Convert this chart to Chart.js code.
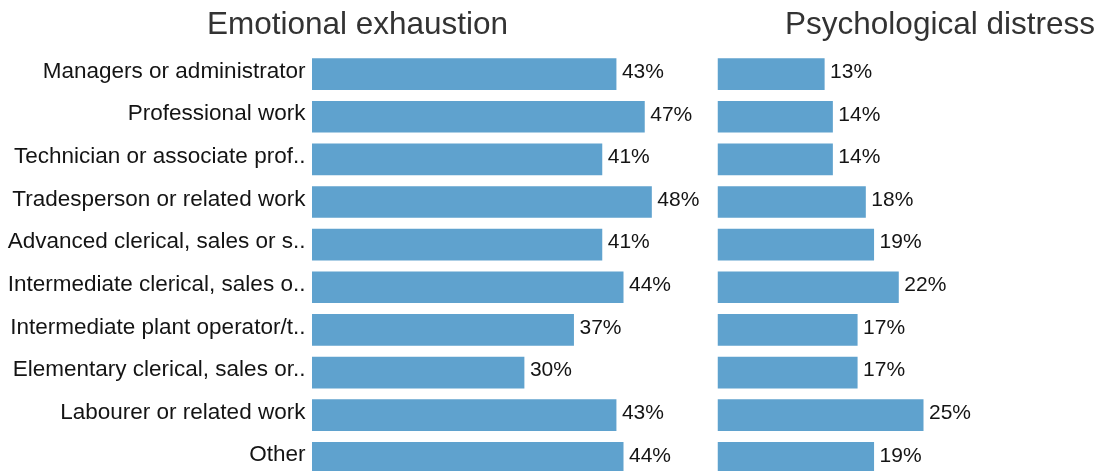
<!DOCTYPE html>
<html>
<head>
<meta charset="utf-8">
<script src="https://cdn.jsdelivr.net/npm/chart.js@4/dist/chart.umd.min.js"></script>
<style>
  html, body { margin: 0; padding: 0; background: #ffffff; overflow: hidden; width: 1105px; height: 471px; }
  canvas { position: absolute; top: 0; }
  #exhaustion { left: 0; }
  #distress { left: 712px; }
</style>
</head>
<body>
<canvas id="exhaustion" width="712" height="500"></canvas>
<canvas id="distress" width="448" height="500"></canvas>
<script>
// Occupation groups, top to bottom
const occupations = [
  'Managers or administrator',
  'Professional work',
  'Technician or associate prof..',
  'Tradesperson or related work',
  'Advanced clerical, sales or s..',
  'Intermediate clerical, sales o..',
  'Intermediate plant operator/t..',
  'Elementary clerical, sales or..',
  'Labourer or related work',
  'Other'
];

// Share of workers (%) in each group
const emotionalExhaustion = [43, 47, 41, 48, 41, 44, 37, 30, 43, 44];
const psychologicalDistress = [13, 14, 14, 18, 19, 22, 17, 17, 25, 19];

const panelTitles = ['Emotional exhaustion', 'Psychological distress'];

const FONT = 'Helvetica, Arial, "Liberation Sans", sans-serif';
const BAR_BLUE = '#5fa2ce';
const TEXT_DARK = '#141414';

// Draws the panel heading and the percentage printed after each bar
const panelDecor = {
  id: 'panelDecor',
  afterDatasetsDraw(chart, args, opts) {
    const ctx = chart.ctx;
    ctx.save();
    ctx.fillStyle = TEXT_DARK;
    ctx.font = '21px ' + FONT;
    ctx.textAlign = 'left';
    ctx.textBaseline = 'middle';
    const meta = chart.getDatasetMeta(0);
    const values = chart.data.datasets[0].data;
    meta.data.forEach((bar, i) => {
      ctx.fillText(values[i] + '%', bar.x + 5.5, bar.y - 2);
    });
    ctx.fillStyle = '#333333';
    ctx.font = '31.5px ' + FONT;
    ctx.textAlign = 'center';
    ctx.textBaseline = 'alphabetic';
    ctx.fillText(opts.text, opts.centerX, 33.5);
    ctx.restore();
  }
};

function makePanel(canvasId, values, title, opts) {
  return new Chart(document.getElementById(canvasId), {
    type: 'bar',
    data: {
      labels: occupations,
      datasets: [{
        data: values,
        backgroundColor: BAR_BLUE,
        borderWidth: 0,
        barPercentage: 0.744,
        categoryPercentage: 1
      }]
    },
    options: {
      indexAxis: 'y',
      responsive: false,
      animation: false,
      events: [],
      layout: { padding: { top: 52.8, bottom: 20.9, left: opts.padLeft, right: opts.padRight } },
      plugins: {
        legend: { display: false },
        tooltip: { enabled: false },
        title: { display: false },
        panelDecor: { text: title, centerX: opts.titleX }
      },
      scales: {
        x: {
          display: false,
          min: 0,
          max: opts.xMax
        },
        y: {
          display: opts.showLabels,
          grid: { display: false, drawTicks: false },
          border: { display: false },
          ticks: {
            color: TEXT_DARK,
            font: { family: FONT, size: 22.5 },
            padding: 6.6,
            labelOffset: -2.5,
            autoSkip: false
          },
          afterFit(scale) { if (opts.showLabels) scale.width = opts.axisWidth; }
        }
      }
    },
    plugins: [panelDecor]
  });
}

makePanel('exhaustion', emotionalExhaustion, panelTitles[0], {
  padLeft: 0, padRight: 17.7, xMax: 54, showLabels: true, axisWidth: 312, titleX: 357.5
});
makePanel('distress', psychologicalDistress, panelTitles[1], {
  padLeft: 5.5, padRight: 30.5, xMax: 50, showLabels: false, titleX: 228
});
</script>
</body>
</html>
